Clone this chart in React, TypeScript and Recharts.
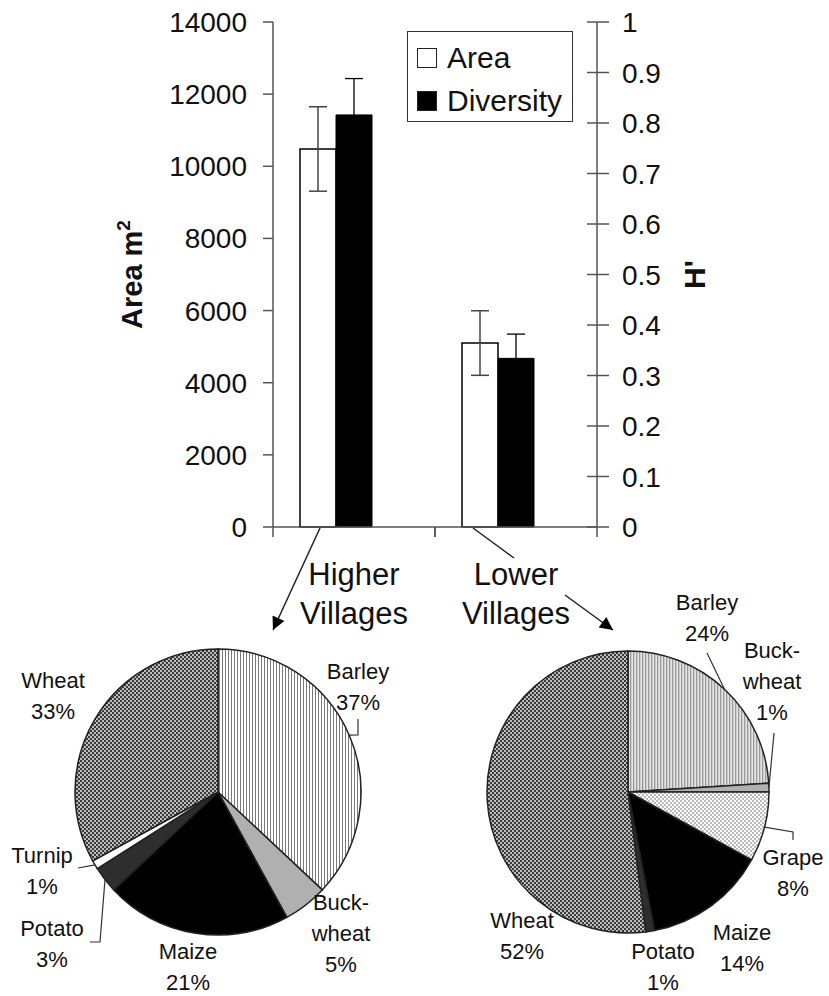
import { BarChart, Bar, XAxis, YAxis, ErrorBar, Legend, PieChart, Pie, Cell } from "recharts";

// bar chart values
const villages = ["Higher Villages", "Lower Villages"];
const areaMeans = [10480, 5100];
const areaErrors = [1170, 895];
const diversityMeans = [0.816, 0.334];
const diversityErrors = [0.072, 0.048];

const areaTicks = [0, 2000, 4000, 6000, 8000, 10000, 12000, 14000];
const hTicks = [0, 0.1, 0.2, 0.3, 0.4, 0.5, 0.6, 0.7, 0.8, 0.9, 1];

// pie values (% of cultivated area)
const higherCrops = ["Barley", "Buckwheat", "Maize", "Potato", "Turnip", "Wheat"];
const higherShares = [37, 5, 21, 3, 1, 33];
const lowerCrops = ["Barley", "Buckwheat", "Grape", "Maize", "Potato", "Wheat"];
const lowerShares = [24, 1, 8, 14, 1, 52];

const barData = villages.map((v, i) => ({
  village: v,
  area: areaMeans[i],
  areaErr: areaErrors[i],
  diversity: diversityMeans[i],
  diversityErr: diversityErrors[i],
}));

const higherData = higherCrops.map((c, i) => ({ name: c, value: higherShares[i] }));
const lowerData = lowerCrops.map((c, i) => ({ name: c, value: lowerShares[i] }));

const FONT = '"Liberation Sans", Arial, sans-serif';
const INK = "#111";
const AXIS = "#555";

const fillHigher: Record<string, string> = {
  Barley: "url(#stripesLight)",
  Buckwheat: "#b0b0b0",
  Maize: "#000",
  Potato: "#2e2e2e",
  Turnip: "#fff",
  Wheat: "url(#checker)",
};
const fillLower: Record<string, string> = {
  Barley: "url(#stripesGrey)",
  Buckwheat: "#b0b0b0",
  Grape: "url(#dots)",
  Maize: "#000",
  Potato: "#2e2e2e",
  Wheat: "url(#checker)",
};

// label placement relative to pie centre; leader points relative to label
type LabelPos = { dx: number; dy: number; leader?: number[][] };
const higherLabels: LabelPos[] = [
  { dx: 140, dy: -113, leader: [[0, 56], [0, 40]] },
  { dx: 123, dy: 118 },
  { dx: -30, dy: 167 },
  { dx: -166, dy: 144, leader: [[48, 6], [38, 6]] },
  { dx: -176, dy: 71, leader: [[36, 5]] },
  { dx: -165, dy: -104 },
];
const lowerLabels: LabelPos[] = [
  { dx: 79, dy: -182, leader: [[0, 43]] },
  { dx: 144, dy: -134, leader: [[2, 75]] },
  { dx: 165, dy: 73, leader: [[0, -33], [0, -25]] },
  { dx: 114, dy: 148 },
  { dx: 35, dy: 167 },
  { dx: -106, dy: 136 },
];

const splitName = (n: string) => (n === "Buckwheat" ? ["Buck-", "wheat"] : [n]);

const makePieLabel = (crops: string[], shares: number[], layout: LabelPos[]) => (props: any) => {
  const { cx, cy, midAngle, outerRadius, index } = props;
  const pos = layout[index];
  const x = cx + pos.dx;
  const y = cy + pos.dy;
  const rad = (-midAngle * Math.PI) / 180;
  const ex = cx + outerRadius * Math.cos(rad);
  const ey = cy + outerRadius * Math.sin(rad);
  const lines = [...splitName(crops[index]), `${shares[index]}%`];
  return (
    <g key={`lbl-${index}`}>
      {pos.leader && (
        <polyline
          points={[[ex, ey], ...pos.leader.map(([a, b]) => [x + a, y + b])].map((p) => p.join(",")).join(" ")}
          fill="none"
          stroke="#333"
          strokeWidth={1.2}
        />
      )}
      <text x={x} y={y} textAnchor="middle" fontSize={22} fill={INK} fontFamily={FONT}>
        {lines.map((l, i) => (
          <tspan key={i} x={x} dy={i === 0 ? 0 : 31}>
            {l}
          </tspan>
        ))}
      </text>
    </g>
  );
};

const VillageTick = ({ x, y, payload }: any) => {
  const half = payload?.offset || 81;
  const [l1, l2] = String(payload.value).split(" ");
  return (
    <g>
      <line x1={x - half} x2={x - half} y1={y} y2={y + 10} stroke={AXIS} strokeWidth={1.5} />
      <line x1={x + half} x2={x + half} y1={y} y2={y + 10} stroke={AXIS} strokeWidth={1.5} />
      <text x={x} y={y + 58} textAnchor="middle" fontSize={31} fill={INK} fontFamily={FONT}>
        {l1}
      </text>
      <text x={x} y={y + 97} textAnchor="middle" fontSize={31} fill={INK} fontFamily={FONT}>
        {l2}
      </text>
    </g>
  );
};

const HTick = ({ x, y, payload }: any) => (
  <g>
    <line x1={x - 10} x2={x + 12} y1={y} y2={y} stroke={AXIS} strokeWidth={1.5} />
    <text x={x + 25} y={y} dy="0.36em" fontSize={28} fill={INK} fontFamily={FONT}>
      {payload.value}
    </text>
  </g>
);

const AreaTitle = ({ viewBox }: any) => {
  const x = viewBox.x + viewBox.width - 131;
  const y = viewBox.y + viewBox.height / 2;
  return (
    <text x={x} y={y} transform={`rotate(-90, ${x}, ${y})`} textAnchor="middle" fontSize={29} fontWeight="bold" fill={INK} fontFamily={FONT}>
      Area m<tspan dy={-12} fontSize={19}>2</tspan>
    </text>
  );
};

const HTitle = ({ viewBox }: any) => {
  const x = viewBox.x + 108;
  const y = viewBox.y + viewBox.height / 2;
  return (
    <text x={x} y={y} transform={`rotate(-90, ${x}, ${y})`} textAnchor="middle" fontSize={30} fontWeight="bold" fill={INK} fontFamily={FONT}>
      H'
    </text>
  );
};

const LegendBox = ({ payload }: any) => (
  <div
    style={{
      width: 166,
      height: 91,
      border: "1px solid #333",
      boxSizing: "border-box",
      background: "#fff",
      paddingTop: 4,
      paddingLeft: 9,
      fontFamily: FONT,
    }}
  >
    {(payload || [])
      .filter((e: any) => e.type !== "none" && e.dataKey !== "spacer")
      .map((e: any) => (
        <div key={e.value} style={{ display: "flex", alignItems: "center", height: 43 }}>
          <span
            style={{
              width: 20,
              height: 20,
              background: e.color,
              border: "1px solid #222",
              boxSizing: "border-box",
              marginRight: 10,
              display: "inline-block",
            }}
          />
          <span style={{ fontSize: 30, lineHeight: "43px", color: INK }}>{e.value}</span>
        </div>
      ))}
  </div>
);

export default function App() {
  return (
    <div style={{ position: "absolute", left: 0, top: 0, width: 829, height: 996, background: "#fff", fontFamily: FONT }}>
      <svg width={0} height={0} style={{ position: "absolute" }}>
        <defs>
          <pattern id="stripesLight" width={3} height={3} patternUnits="userSpaceOnUse">
            <rect width={3} height={3} fill="#fff" />
            <rect width={1} height={3} fill="#7a7a7a" />
          </pattern>
          <pattern id="stripesGrey" width={3} height={3} patternUnits="userSpaceOnUse">
            <rect width={3} height={3} fill="#e4e4e4" />
            <rect width={1.3} height={3} fill="#9a9a9a" />
          </pattern>
          <pattern id="checker" width={4} height={4} patternUnits="userSpaceOnUse">
            <rect width={4} height={4} fill="#bdbdbd" />
            <rect width={2} height={2} fill="#3a3a3a" />
            <rect x={2} y={2} width={2} height={2} fill="#3a3a3a" />
          </pattern>
          <pattern id="dots" width={4} height={4} patternUnits="userSpaceOnUse">
            <rect width={4} height={4} fill="#fafafa" />
            <rect width={2} height={2} fill="#bbb" />
            <rect x={2} y={2} width={2} height={2} fill="#bbb" />
          </pattern>
        </defs>
      </svg>

      <div style={{ position: "absolute", left: 0, top: 0 }}>
        <BarChart width={829} height={640} data={barData} margin={{ top: 22, right: 102, bottom: 13, left: 113 }} barSize={36} barGap={0}>
          <XAxis
            dataKey="village"
            height={100}
            stroke={AXIS}
            strokeWidth={1.5}
            tickLine={false}
            tickSize={0}
            tickMargin={0}
            tick={<VillageTick />}
            interval={0}
          />
          <YAxis
            yAxisId="area"
            orientation="left"
            width={160}
            domain={[0, 14000]}
            ticks={areaTicks}
            interval={0}
            stroke={AXIS}
            strokeWidth={1.5}
            tickSize={10}
            tickMargin={16}
            tick={{ fontSize: 28, fill: INK, fontFamily: FONT }}
            label={{ content: AreaTitle }}
          />
          <YAxis
            yAxisId="h"
            orientation="right"
            width={130}
            domain={[0, 1]}
            ticks={hTicks}
            interval={0}
            stroke={AXIS}
            strokeWidth={1.5}
            tickLine={false}
            tickSize={0}
            tickMargin={0}
            tick={<HTick />}
            label={{ content: HTitle }}
          />
          <Legend
            layout="vertical"
            align="center"
            verticalAlign="middle"
            content={<LegendBox />}
            wrapperStyle={{ left: 407, top: 31, width: 166, height: 91 }}
          />
          <Bar yAxisId="area" dataKey="area" name="Area" fill="#fff" stroke="#000" strokeWidth={1.5} isAnimationActive={false}>
            <ErrorBar dataKey="areaErr" width={9} stroke="#444" strokeWidth={1.5} />
          </Bar>
          <Bar yAxisId="h" dataKey="diversity" name="Diversity" fill="#000" stroke="#000" strokeWidth={1} isAnimationActive={false}>
            <ErrorBar dataKey="diversityErr" width={9} stroke="#000" strokeWidth={1.3} />
          </Bar>
          <Bar yAxisId="area" dataKey="spacer" fill="none" legendType="none" isAnimationActive={false} />
        </BarChart>
      </div>

      <div style={{ position: "absolute", left: 0, top: 540 }}>
        <PieChart width={829} height={456} margin={{ top: 0, right: 0, bottom: 0, left: 0 }}>
          <Pie
            data={higherData}
            dataKey="value"
            nameKey="name"
            cx={218}
            cy={252}
            outerRadius={143}
            startAngle={90}
            endAngle={-270}
            stroke="#222"
            strokeWidth={1.5}
            labelLine={false}
            label={makePieLabel(higherCrops, higherShares, higherLabels)}
            isAnimationActive={false}
          >
            {higherData.map((d) => (
              <Cell key={d.name} fill={fillHigher[d.name]} />
            ))}
          </Pie>
          <Pie
            data={lowerData}
            dataKey="value"
            nameKey="name"
            cx={628}
            cy={252}
            outerRadius={141}
            startAngle={90}
            endAngle={-270}
            stroke="#222"
            strokeWidth={1.5}
            labelLine={false}
            label={makePieLabel(lowerCrops, lowerShares, lowerLabels)}
            isAnimationActive={false}
          >
            {lowerData.map((d) => (
              <Cell key={d.name} fill={fillLower[d.name]} />
            ))}
          </Pie>
        </PieChart>
      </div>

      <svg width={829} height={996} style={{ position: "absolute", left: 0, top: 0, pointerEvents: "none" }}>
        <defs>
          <marker id="head" viewBox="0 0 10 10" refX={10} refY={5} markerWidth={17} markerHeight={13} markerUnits="userSpaceOnUse" orient="auto">
            <path d="M0,0 L10,5 L0,10 z" fill="#000" />
          </marker>
        </defs>
        <line x1={320} y1={528} x2={273} y2={630} stroke="#222" strokeWidth={1.5} markerEnd="url(#head)" />
        <line x1={473} y1={528} x2={514} y2={558} stroke="#222" strokeWidth={1.5} />
        <line x1={565} y1={595} x2={613} y2={630} stroke="#222" strokeWidth={1.5} markerEnd="url(#head)" />
      </svg>
    </div>
  );
}
